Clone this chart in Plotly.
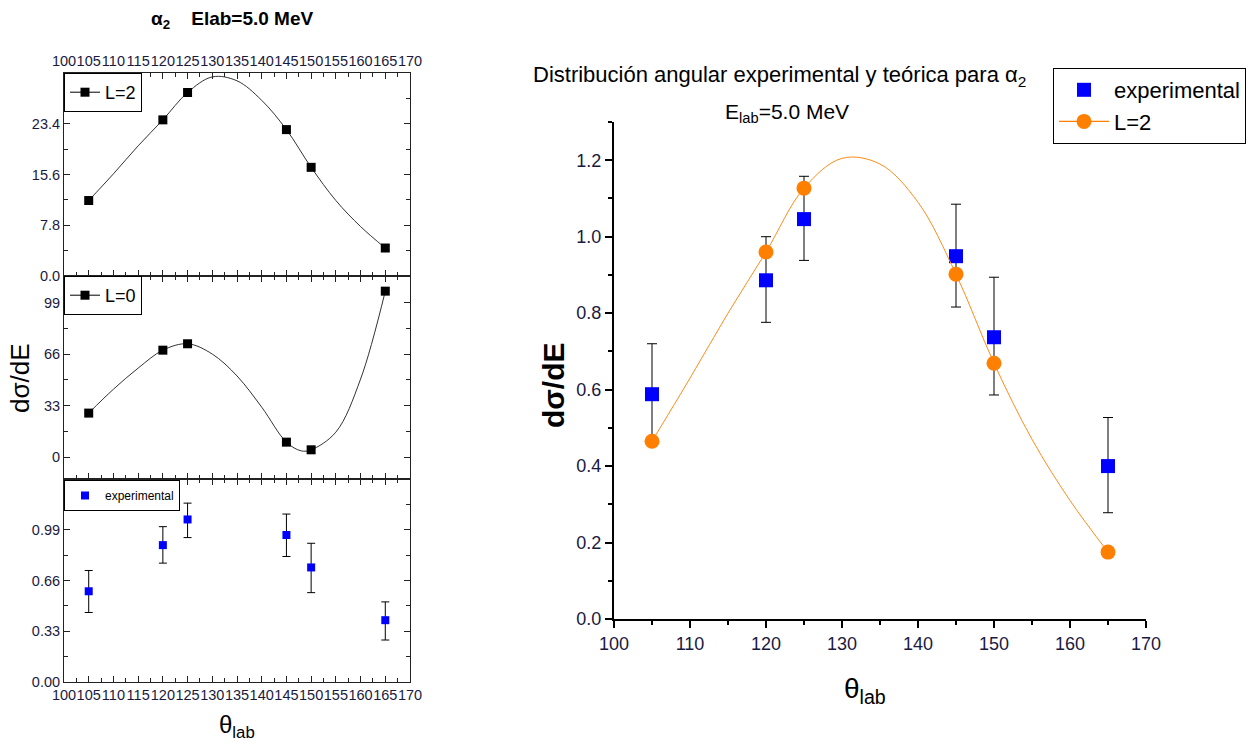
import plotly.graph_objects as go

# ---------------- data ----------------
theta = [105, 120, 125, 145, 150, 165]

# left panels
l2_left = [11.6, 24.0, 28.2, 22.5, 16.7, 4.3]
l0_left = [28.2, 68.5, 72.6, 9.6, 4.7, 106.3]
exp_left = [0.59, 0.89, 1.057, 0.956, 0.745, 0.402]
exp_left_hi = [0.725, 1.01, 1.163, 1.092, 0.902, 0.521]
exp_left_lo = [0.452, 0.773, 0.939, 0.816, 0.581, 0.273]

# curves (left panels)
curve_theta = [105, 110, 115, 120, 125, 130, 135, 140, 145, 150, 155, 160, 165]
l2_left_curve = [11.6, 15.7, 20.0, 24.0, 28.2, 30.6, 30.0, 27.0, 22.5, 16.7, 11.6, 7.6, 4.3]
l0_curve_theta = [105, 110, 115, 120, 125, 130, 135, 140, 145, 148, 150, 155, 160, 165]
l0_left_curve = [28.2, 43.5, 57.0, 68.5, 72.6, 66.0, 52.0, 32.0, 9.6, 4.0, 4.7, 16.0, 50.0, 106.3]

# right chart
exp_right = [0.588, 0.886, 1.046, 0.949, 0.737, 0.40]
exp_right_hi = [0.72, 1.0, 1.158, 1.085, 0.894, 0.527]
exp_right_lo = [0.458, 0.776, 0.938, 0.816, 0.586, 0.278]
l2_right = [0.465, 0.96, 1.127, 0.902, 0.669, 0.175]
l2_right_curve = [0.465, 0.63, 0.80, 0.96, 1.127, 1.205, 1.19, 1.09, 0.902, 0.669, 0.47, 0.31, 0.175]

top_ticks = [0, 7.8, 15.6, 23.4]
top_ticktext = ["0.0", "7.8", "15.6", "23.4"]
mid_ticks = [0, 33, 66, 99]
mid_ticktext = ["0", "33", "66", "99"]
bot_ticks = [0, 0.33, 0.66, 0.99]
bot_ticktext = ["0.00", "0.33", "0.66", "0.99"]
x_left_ticks = list(range(100, 171, 5))

FONT = "Arial, Liberation Sans, sans-serif"
W, H = 1249, 747

def px(x):
    return x / W

def py(y):
    return 1 - y / H

fig = go.Figure()

# ---------- left top: L=2 ----------
fig.add_trace(go.Scatter(x=curve_theta, y=l2_left_curve, mode="lines",
                         line=dict(color="#333333", width=1, shape="spline"),
                         xaxis="x", yaxis="y", showlegend=False, cliponaxis=False))
fig.add_trace(go.Scatter(x=theta, y=l2_left, mode="markers",
                         marker=dict(symbol="square", size=9, color="black"),
                         xaxis="x", yaxis="y", showlegend=False))
fig.add_trace(go.Scatter(x=[None], y=[None], mode="lines+markers", name="L=2",
                         line=dict(color="black", width=1),
                         marker=dict(symbol="square", size=9, color="black"),
                         xaxis="x", yaxis="y", legend="legend"))

# ---------- left middle: L=0 ----------
fig.add_trace(go.Scatter(x=l0_curve_theta, y=l0_left_curve, mode="lines",
                         line=dict(color="#333333", width=1, shape="spline"),
                         xaxis="x2", yaxis="y2", showlegend=False))
fig.add_trace(go.Scatter(x=theta, y=l0_left, mode="markers",
                         marker=dict(symbol="square", size=9, color="black"),
                         xaxis="x2", yaxis="y2", showlegend=False))
fig.add_trace(go.Scatter(x=[None], y=[None], mode="lines+markers", name="L=0",
                         line=dict(color="black", width=1),
                         marker=dict(symbol="square", size=9, color="black"),
                         xaxis="x2", yaxis="y2", legend="legend2"))

# ---------- left bottom: experimental ----------
fig.add_trace(go.Scatter(x=theta, y=exp_left, mode="markers", name="experimental",
                         marker=dict(symbol="square", size=8, color="#0000ff"),
                         error_y=dict(type="data", symmetric=False,
                                      array=[h - v for h, v in zip(exp_left_hi, exp_left)],
                                      arrayminus=[v - l for v, l in zip(exp_left, exp_left_lo)],
                                      color="black", thickness=1, width=4),
                         xaxis="x3", yaxis="y3", legend="legend3"))

# ---------- right chart ----------
fig.add_trace(go.Scatter(x=theta, y=exp_right, mode="markers", name="experimental",
                         marker=dict(symbol="square", size=14, color="#0000ff"),
                         error_y=dict(type="data", symmetric=False,
                                      array=[h - v for h, v in zip(exp_right_hi, exp_right)],
                                      arrayminus=[v - l for v, l in zip(exp_right, exp_right_lo)],
                                      color="black", thickness=1, width=5),
                         xaxis="x4", yaxis="y4", legend="legend4"))
fig.add_trace(go.Scatter(x=curve_theta, y=l2_right_curve, mode="lines",
                         line=dict(color="#ff8c1a", width=1, shape="spline"),
                         xaxis="x4", yaxis="y4", showlegend=False))
fig.add_trace(go.Scatter(x=theta, y=l2_right, mode="markers",
                         marker=dict(symbol="circle", size=15, color="#ff7f00"),
                         xaxis="x4", yaxis="y4", showlegend=False))
fig.add_trace(go.Scatter(x=[None], y=[None], mode="lines+markers", name="L=2",
                         line=dict(color="#ff7f00", width=1.2),
                         marker=dict(symbol="circle", size=15, color="#ff7f00"),
                         xaxis="x4", yaxis="y4", legend="legend4"))

# ---------- axes ----------
lx0, lx1 = px(64), px(410)
frame = dict(showline=True, linecolor="#222", linewidth=1, mirror="allticks",
             ticks="inside", ticklen=6, tickcolor="#222", showgrid=False, zeroline=False,
             automargin=False,
             tickfont=dict(family=FONT, size=14.5, color="#1a1a40"))

xcommon = dict(frame, range=[100, 170], tickmode="array", tickvals=x_left_ticks,
               ticktext=[str(v) for v in x_left_ticks], tickangle=0,
               minor=dict(dtick=2.5, tick0=100, ticks="inside", ticklen=4, tickcolor="#222"))

layout = dict(
    width=W, height=H, margin=dict(l=0, r=0, t=0, b=0, autoexpand=False),
    paper_bgcolor="white", plot_bgcolor="white",
    font=dict(family=FONT, color="black"),
    xaxis=dict(xcommon, domain=[lx0, lx1], anchor="y", side="top", showticklabels=True),
    yaxis=dict(frame, domain=[py(276), py(73)], anchor="x", range=[0, 31.2],
               tickmode="array", tickvals=top_ticks, ticktext=top_ticktext,
               minor=dict(dtick=3.9, tick0=0, ticks="inside", ticklen=4, tickcolor="#222")),
    xaxis2=dict(xcommon, domain=[lx0, lx1], anchor="y2", showticklabels=False),
    yaxis2=dict(frame, domain=[py(479), py(276)], anchor="x2", range=[-14, 116],
                tickmode="array", tickvals=mid_ticks, ticktext=mid_ticktext,
                minor=dict(dtick=16.5, tick0=0, ticks="inside", ticklen=4, tickcolor="#222")),
    xaxis3=dict(xcommon, domain=[lx0, lx1], anchor="y3", side="bottom", showticklabels=True),
    yaxis3=dict(frame, domain=[py(682), py(479)], anchor="x3", range=[0, 1.32],
                tickmode="array", tickvals=bot_ticks, ticktext=bot_ticktext,
                minor=dict(dtick=0.165, tick0=0, ticks="inside", ticklen=4, tickcolor="#222")),
    xaxis4=dict(domain=[px(614), px(1146)], anchor="y4", range=[100, 170],
                showline=True, linecolor="black", linewidth=2, ticks="outside",
                ticklen=7, tickwidth=1.5, tickcolor="black", dtick=10, tick0=100,
                showgrid=False, zeroline=False, automargin=False,
                tickfont=dict(family=FONT, size=18, color="#1a1a40"),
                minor=dict(dtick=5, tick0=100, ticks="outside", ticklen=4, tickcolor="black")),
    yaxis4=dict(domain=[py(619), py(122)], anchor="x4", range=[0, 1.3],
                showline=True, linecolor="black", linewidth=2, ticks="outside",
                ticklen=7, tickwidth=1.5, tickcolor="black", dtick=0.2, tick0=0,
                tickformat=".1f", showgrid=False, zeroline=False, automargin=False,
                tickfont=dict(family=FONT, size=18, color="#1a1a40"),
                minor=dict(dtick=0.1, tick0=0, ticks="outside", ticklen=4, tickcolor="black")),
    legend=dict(x=px(64), y=py(73), xanchor="left", yanchor="top", bgcolor="white",
                bordercolor="black", borderwidth=1, font=dict(family=FONT, size=18),
                itemwidth=30, tracegroupgap=0),
    legend2=dict(x=px(64), y=py(276), xanchor="left", yanchor="top", bgcolor="white",
                 bordercolor="black", borderwidth=1, font=dict(family=FONT, size=18),
                 itemwidth=30),
    legend3=dict(x=px(64), y=py(480), xanchor="left", yanchor="top", bgcolor="white",
                 bordercolor="black", borderwidth=1, font=dict(family=FONT, size=12),
                 itemwidth=30),
    legend4=dict(x=px(1053), y=py(68), xanchor="left", yanchor="top", bgcolor="white",
                 bordercolor="black", borderwidth=1, font=dict(family=FONT, size=22),
                 itemwidth=50, tracegroupgap=0),
    showlegend=True,
)
fig.update_layout(**layout)

ann = [
    dict(text="<b>α<sub>2</sub>    Elab=5.0 MeV</b>", x=px(232), y=py(20), font=dict(size=19)),
    dict(text="dσ/dE", x=px(20), y=py(378), textangle=-90, font=dict(size=26)),
    dict(text="θ<sub>lab</sub>", x=px(237), y=py(726), font=dict(size=24)),
    dict(text="Distribución angular experimental y teórica para α<sub>2</sub>",
         x=px(779), y=py(76), font=dict(size=22)),
    dict(text="E<sub>lab</sub>=5.0 MeV", x=px(787), y=py(113), font=dict(size=21)),
    dict(text="<b>dσ/dE</b>", x=px(553), y=py(385), textangle=-90, font=dict(size=30)),
    dict(text="θ<sub>lab</sub>", x=px(865), y=py(690), font=dict(size=28)),
]
for a in ann:
    a.update(xref="paper", yref="paper", showarrow=False, xanchor="center", yanchor="middle")
    a["font"] = dict(a["font"], family=FONT, color="black")
    fig.add_annotation(**a)

fig.write_html("out.html")
